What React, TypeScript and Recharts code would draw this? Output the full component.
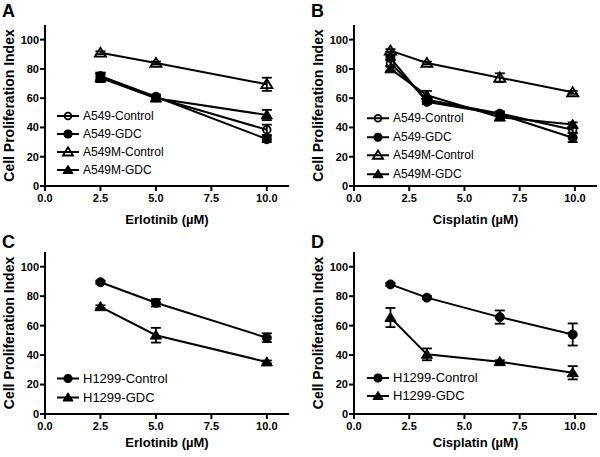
import React from 'react';
import { LineChart, Line, XAxis, YAxis, ErrorBar, Legend } from 'recharts';

const FONT = '"Liberation Sans", Arial, Helvetica, sans-serif';

// ---------- Data ----------
const erlotinibDoses = [2.5, 5, 10];
const cisplatinDoses = [1.65, 3.3, 6.6, 9.9];

const xTicks = [0, 2.5, 5, 7.5, 10];
const yTicks = [0, 20, 40, 60, 80, 100];

const panelLetters = ['A', 'B', 'C', 'D'];
const yAxisTitle = 'Cell Proliferation Index';
const xTitleErlotinib = 'Erlotinib (\u00B5M)';
const xTitleCisplatin = 'Cisplatin (\u00B5M)';

// Panel A (Erlotinib, A549 lines)
const aA549Control = [75, 60.5, 38.4];
const aA549ControlErr = [2.5, 1.5, 3.5];
const aA549GDC = [75, 61, 32];
const aA549GDCErr = [1.5, 1.5, 2];
const aA549MControl = [91, 84, 69.5];
const aA549MControlErr = [1, 1, 4.5];
const aA549MGDC = [74, 60, 48.5];
const aA549MGDCErr = [3, 2, 3.5];

// Panel B (Cisplatin, A549 lines)
const bA549Control = [84, 58.9, 49.5, 38.4];
const bA549ControlErr = [2, 1.5, 1.5, 2];
const bA549GDC = [87.5, 57.5, 49, 33];
const bA549GDCErr = [1.5, 1.5, 1.5, 3];
const bA549MControl = [92.5, 84, 74, 64];
const bA549MControlErr = [1, 1, 3, 1];
const bA549MGDC = [80, 62, 47, 42];
const bA549MGDCErr = [1.5, 3, 1.5, 1.5];

// Panel C (Erlotinib, H1299)
const cH1299Control = [89.5, 75.5, 51.8];
const cH1299ControlErr = [1, 2.5, 3];
const cH1299GDC = [72.8, 53.5, 35.3];
const cH1299GDCErr = [1, 5, 1];

// Panel D (Cisplatin, H1299)
const dH1299Control = [88, 79, 65.8, 54];
const dH1299ControlErr = [1, 1, 4.5, 7.5];
const dH1299GDC = [65.5, 40.5, 35.5, 28];
const dH1299GDCErr = [6.5, 4, 1, 4.5];

type Kind = 'circleOpen' | 'circle' | 'triangleOpen' | 'triangle';

const pts = (xs: number[], ys: number[], es: number[]) =>
  xs.map((x, i) => ({ x, y: ys[i], err: es[i] }));

interface Series { name: string; kind: Kind; data: { x: number; y: number; err: number }[] }

const seriesA: Series[] = [
  { name: 'A549-Control', kind: 'circleOpen', data: pts(erlotinibDoses, aA549Control, aA549ControlErr) },
  { name: 'A549-GDC', kind: 'circle', data: pts(erlotinibDoses, aA549GDC, aA549GDCErr) },
  { name: 'A549M-Control', kind: 'triangleOpen', data: pts(erlotinibDoses, aA549MControl, aA549MControlErr) },
  { name: 'A549M-GDC', kind: 'triangle', data: pts(erlotinibDoses, aA549MGDC, aA549MGDCErr) },
];
const seriesB: Series[] = [
  { name: 'A549-Control', kind: 'circleOpen', data: pts(cisplatinDoses, bA549Control, bA549ControlErr) },
  { name: 'A549-GDC', kind: 'circle', data: pts(cisplatinDoses, bA549GDC, bA549GDCErr) },
  { name: 'A549M-Control', kind: 'triangleOpen', data: pts(cisplatinDoses, bA549MControl, bA549MControlErr) },
  { name: 'A549M-GDC', kind: 'triangle', data: pts(cisplatinDoses, bA549MGDC, bA549MGDCErr) },
];
const seriesC: Series[] = [
  { name: 'H1299-Control', kind: 'circle', data: pts(erlotinibDoses, cH1299Control, cH1299ControlErr) },
  { name: 'H1299-GDC', kind: 'triangle', data: pts(erlotinibDoses, cH1299GDC, cH1299GDCErr) },
];
const seriesD: Series[] = [
  { name: 'H1299-Control', kind: 'circle', data: pts(cisplatinDoses, dH1299Control, dH1299ControlErr) },
  { name: 'H1299-GDC', kind: 'triangle', data: pts(cisplatinDoses, dH1299GDC, dH1299GDCErr) },
];

// ---------- Markers ----------
function Marker({ kind, cx, cy, s = 1 }: { kind: Kind; cx: number; cy: number; s?: number }) {
  if (kind === 'circleOpen')
    return <circle cx={cx} cy={cy} r={3.8 * s} fill="none" stroke="#000" strokeWidth={1.8} />;
  if (kind === 'circle')
    return <circle cx={cx} cy={cy} r={4.5 * s} fill="#000" stroke="#000" strokeWidth={1} />;
  const h = 5.2 * s;
  const w = 5.6 * s;
  const p = `${cx},${cy - h} ${cx - w},${cy + h * 0.75} ${cx + w},${cy + h * 0.75}`;
  if (kind === 'triangleOpen')
    return <polygon points={p} fill="none" stroke="#000" strokeWidth={1.8} strokeLinejoin="miter" />;
  return <polygon points={p} fill="#000" stroke="#000" strokeWidth={1} />;
}

function LegendBox({ series, fontSize, rowH }: { series: Series[]; fontSize: number; rowH: number }) {
  return (
    <div style={{ fontFamily: FONT, fontSize, color: '#000' }}>
      {series.map((s) => (
        <div key={s.name} style={{ display: 'flex', alignItems: 'center', height: rowH }}>
          <svg width={24} height={rowH} style={{ display: 'block' }}>
            <line x1={0} y1={rowH / 2} x2={22} y2={rowH / 2} stroke="#000" strokeWidth={2} />
            <Marker kind={s.kind} cx={11} cy={rowH / 2} s={0.9} />
          </svg>
          <span style={{ marginLeft: 2, whiteSpace: 'nowrap', lineHeight: `${rowH}px` }}>{s.name}</span>
        </div>
      ))}
    </div>
  );
}

interface PanelProps {
  series: Series[];
  xTitle: string;
  left: number;
  top: number;
  width: number;
  height: number;
  marginTop: number;
  marginRight: number;
  xAxisHeight: number;
  xLabelOffset: number;
  legendLeft: number;
  legendTop: number;
  legendFont: number;
  legendRow: number;
}

function Panel(p: PanelProps) {
  const tickStyle = { fontFamily: FONT, fontSize: 11, fontWeight: 700, fill: '#000' };
  return (
    <div style={{ position: 'absolute', left: p.left, top: p.top }}>
      <LineChart
        width={p.width}
        height={p.height}
        margin={{ top: p.marginTop, right: p.marginRight, bottom: 0, left: 0 }}
      >
        <XAxis
          type="number"
          dataKey="x"
          domain={[0, 11]}
          ticks={xTicks}
          allowDataOverflow
          tickFormatter={(v: number) => v.toFixed(1)}
          height={p.xAxisHeight}
          stroke="#000"
          axisLine={{ stroke: '#000', strokeWidth: 2 }}
          tickLine={{ stroke: '#000', strokeWidth: 2 }}
          tickSize={5}
          tickMargin={3}
          tick={tickStyle}
          interval={0}
          label={{
            value: p.xTitle,
            position: 'insideBottom',
            offset: p.xLabelOffset,
            style: { fontFamily: FONT, fontSize: 13, fontWeight: 700, fill: '#000' },
          }}
        />
        <YAxis
          type="number"
          domain={[0, 110]}
          ticks={yTicks}
          allowDataOverflow
          width={45}
          stroke="#000"
          axisLine={{ stroke: '#000', strokeWidth: 2 }}
          tickLine={{ stroke: '#000', strokeWidth: 2 }}
          tickSize={5}
          tickMargin={1}
          tick={tickStyle}
          interval={0}
          label={{
            value: yAxisTitle,
            angle: -90,
            position: 'insideLeft',
            offset: 9,
            style: { fontFamily: FONT, fontSize: 14, fontWeight: 700, fill: '#000', textAnchor: 'middle' },
          }}
        />
        {p.series.map((s) => (
          <Line
            key={s.name}
            data={s.data}
            dataKey="y"
            name={s.name}
            type="linear"
            stroke="#000"
            strokeWidth={2}
            isAnimationActive={false}
            activeDot={false}
            dot={(dp: any) => (
              <Marker key={`${s.name}-${dp.index}`} kind={s.kind} cx={dp.cx} cy={dp.cy} />
            )}
          >
            <ErrorBar dataKey="err" direction="y" width={5} stroke="#000" strokeWidth={1.8} isAnimationActive={false} />
          </Line>
        ))}
        <Legend
          layout="horizontal"
          verticalAlign="middle"
          align="center"
          wrapperStyle={{ left: p.legendLeft, top: p.legendTop, width: 150, height: p.legendRow * p.series.length }}
          content={() => <LegendBox series={p.series} fontSize={p.legendFont} rowH={p.legendRow} />}
        />
      </LineChart>
    </div>
  );
}

const letterStyle: React.CSSProperties = {
  position: 'absolute',
  fontFamily: FONT,
  fontSize: 18,
  fontWeight: 700,
  lineHeight: '18px',
  color: '#000',
};

export default function App() {
  return (
    <div style={{ position: 'absolute', left: 0, top: 0, width: 600, height: 457, background: '#fff', overflow: 'hidden' }}>
      <Panel
        series={seriesA}
        xTitle={xTitleErlotinib}
        left={0}
        top={0}
        width={300}
        height={230}
        marginTop={25}
        marginRight={11}
        xAxisHeight={44}
        xLabelOffset={6}
        legendLeft={57}
        legendTop={107}
        legendFont={12}
        legendRow={18}
      />
      <Panel
        series={seriesB}
        xTitle={xTitleCisplatin}
        left={309}
        top={0}
        width={291}
        height={230}
        marginTop={25}
        marginRight={3}
        xAxisHeight={44}
        xLabelOffset={6}
        legendLeft={58}
        legendTop={109}
        legendFont={12}
        legendRow={18.5}
      />
      <Panel
        series={seriesC}
        xTitle={xTitleErlotinib}
        left={0}
        top={230}
        width={300}
        height={227}
        marginTop={22}
        marginRight={11}
        xAxisHeight={43}
        xLabelOffset={10}
        legendLeft={57}
        legendTop={139}
        legendFont={13}
        legendRow={19}
      />
      <Panel
        series={seriesD}
        xTitle={xTitleCisplatin}
        left={309}
        top={230}
        width={291}
        height={227}
        marginTop={22}
        marginRight={3}
        xAxisHeight={43}
        xLabelOffset={10}
        legendLeft={58}
        legendTop={139}
        legendFont={13}
        legendRow={18}
      />
      <div style={{ ...letterStyle, left: 2, top: 2 }}>{panelLetters[0]}</div>
      <div style={{ ...letterStyle, left: 311, top: 2 }}>{panelLetters[1]}</div>
      <div style={{ ...letterStyle, left: 2, top: 233 }}>{panelLetters[2]}</div>
      <div style={{ ...letterStyle, left: 311, top: 233 }}>{panelLetters[3]}</div>
    </div>
  );
}
